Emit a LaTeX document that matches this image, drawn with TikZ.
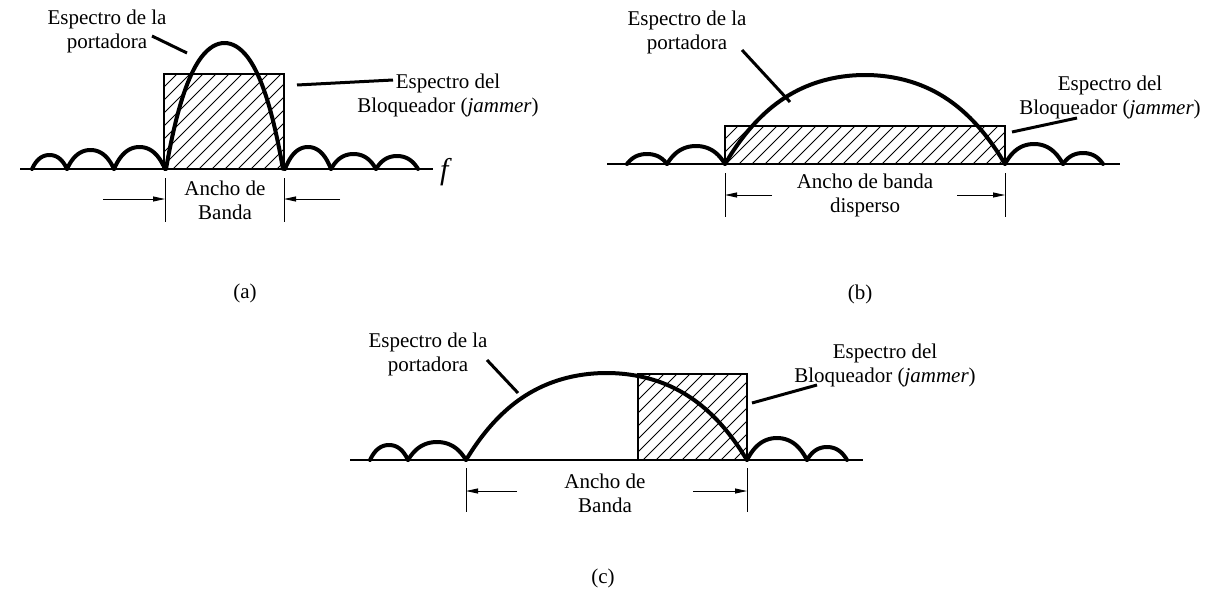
\documentclass[tikz,border=0pt]{standalone}
\usepackage{fontspec}
\setmainfont{Liberation Serif}
\usepackage{tikz}
\usetikzlibrary{arrows.meta}

% one lobe of the spectrum: left, right, height, baseline
\newcommand{\lobulo}[4]{%
  \draw[curva] plot[domain=-1:1, samples=41, smooth]
    ({(#1+#2)/2+(#2-#1)/2*\x}, {#4-#3*(1-\x*\x)*(1+0.33*\x*\x)});}

% hatched box of the jammer: x1, y1 (top), x2, y2 (bottom)
\newcommand{\rayado}[4]{%
  \begin{scope}
    \clip (#1,#2) rectangle (#3,#4);
    \foreach \k in {0,...,26}
      \draw[trama] ({#1-(#4-#2)+\k*13}, #4) -- ++(150,-150);
  \end{scope}
  \draw[caja] (#1,#2) rectangle (#3,#4);}

\begin{document}
\begin{tikzpicture}[
  x=1pt, y=-1pt,
  every node/.style={font=\fontsize{21}{24}\selectfont, inner sep=0pt, align=center},
  curva/.style={line width=4pt, line cap=round, line join=round},
  eje/.style={line width=2.5pt},
  caja/.style={line width=2pt},
  trama/.style={line width=1pt},
  guia/.style={line width=3pt},
  cota/.style={line width=0.9pt},
  flecha/.style={cota, -{Triangle[length=12pt, width=5pt]}}
]
  \useasboundingbox (0,0) rectangle (1209,594);

  % (a) bloqueador de banda estrecha
  \draw[eje] (20,169) -- (433,169);
  \rayado{164}{74}{284}{169}
  \foreach \a/\b/\h in {32/67/14, 67/114/19, 114/165/22,
                        285/331/22, 331/376/15, 376/418/13}
    \lobulo{\a}{\b}{\h}{169};
  \lobulo{166}{283}{126}{169}

  \node (porta) at (107,31) {Espectro de la\\portadora};
  \node (bloqa) at (448,95) {Espectro del\\Bloqueador (\textit{jammer})};
  \node (anchoa) at (225,200) {Ancho de\\Banda};
  \node (fa) at (446,172) {\fontsize{30}{30}\selectfont\textit{f}};
  \node (capa) at (245,293) {(a)};

  \coordinate (porta1) at (152,36);  \coordinate (porta2) at (187,53);
  \coordinate (bloqa1) at (297,85);  \coordinate (bloqa2) at (393,80);
  \draw[guia] (porta1) -- (porta2);
  \draw[guia] (bloqa1) -- (bloqa2);

  \coordinate (ca1) at (165,178);  \coordinate (ca2) at (165,222);
  \coordinate (ca3) at (284,178);  \coordinate (ca4) at (284,222);
  \coordinate (fa1) at (103,199);  \coordinate (fa2) at (165,199);
  \coordinate (fa3) at (340,199);  \coordinate (fa4) at (284,199);
  \draw[cota] (ca1) -- (ca2);
  \draw[cota] (ca3) -- (ca4);
  \draw[flecha] (fa1) -- (fa2);
  \draw[flecha] (fa3) -- (fa4);

  % (b) espectro disperso
  \draw[eje] (607,164) -- (1120,164);
  \rayado{725}{126}{1005}{164}
  \foreach \a/\b/\h in {627/667/10, 667/725/18, 1005/1063/20, 1063/1103/11}
    \lobulo{\a}{\b}{\h}{164};
  \lobulo{725}{1005}{89}{164}

  \node (portb) at (687,32) {Espectro de la\\portadora};
  \node (bloqb) at (1110,97) {Espectro del\\Bloqueador (\textit{jammer})};
  \node (anchob) at (865,195) {Ancho de banda\\disperso};
  \node (capb) at (860,294) {(b)};

  \coordinate (portb1) at (742,50);    \coordinate (portb2) at (790,102);
  \coordinate (bloqb1) at (1012,132);  \coordinate (bloqb2) at (1077,118);
  \draw[guia] (portb1) -- (portb2);
  \draw[guia] (bloqb1) -- (bloqb2);

  \coordinate (cb1) at (725,173);   \coordinate (cb2) at (725,217);
  \coordinate (cb3) at (1005,173);  \coordinate (cb4) at (1005,217);
  \coordinate (fb1) at (772,195);   \coordinate (fb2) at (725,195);
  \coordinate (fb3) at (957,195);   \coordinate (fb4) at (1005,195);
  \draw[cota] (cb1) -- (cb2);
  \draw[cota] (cb3) -- (cb4);
  \draw[flecha] (fb1) -- (fb2);
  \draw[flecha] (fb3) -- (fb4);

  % (c) bloqueador sobre parte de la banda
  \draw[eje] (350,460) -- (863,460);
  \rayado{638}{374}{747}{460}
  \foreach \a/\b/\h in {370/408/15, 408/466/18, 747/807/22, 807/847/13}
    \lobulo{\a}{\b}{\h}{460};
  \lobulo{466}{747}{87}{460}

  \node (portc) at (428,354) {Espectro de la\\portadora};
  \node (bloqc) at (885,365) {Espectro del\\Bloqueador (\textit{jammer})};
  \node (anchoc) at (605,493) {Ancho de\\Banda};
  \node (capc) at (603,578) {(c)};

  \coordinate (portc1) at (487,360);  \coordinate (portc2) at (518,393);
  \coordinate (bloqc1) at (752,403);  \coordinate (bloqc2) at (817,385);
  \draw[guia] (portc1) -- (portc2);
  \draw[guia] (bloqc1) -- (bloqc2);

  \coordinate (cc1) at (466,468);  \coordinate (cc2) at (466,512);
  \coordinate (cc3) at (747,468);  \coordinate (cc4) at (747,512);
  \coordinate (fc1) at (517,491);  \coordinate (fc2) at (466,491);
  \coordinate (fc3) at (693,491);  \coordinate (fc4) at (747,491);
  \draw[cota] (cc1) -- (cc2);
  \draw[cota] (cc3) -- (cc4);
  \draw[flecha] (fc1) -- (fc2);
  \draw[flecha] (fc3) -- (fc4);
\end{tikzpicture}
\end{document}
